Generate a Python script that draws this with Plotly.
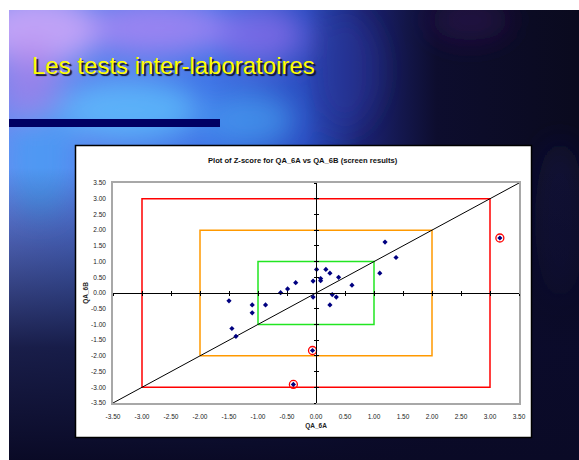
import base64
import plotly.graph_objects as go

# ---------------- data ----------------
x_ticks = [-3.5, -3.0, -2.5, -2.0, -1.5, -1.0, -0.5, 0.0, 0.5, 1.0, 1.5, 2.0, 2.5, 3.0, 3.5]
qa_6a = [-1.50, -1.10, -0.87, -1.10, -1.45, -1.38, -0.61, -0.49, -0.35, -0.05, -0.05, 0.01,
         0.08, 0.08, 0.17, 0.24, 0.39, 0.28, 0.35, 0.24, 0.62, 1.10, 1.19, 1.38]
qa_6b = [-0.25, -0.38, -0.38, -0.63, -1.13, -1.38, 0.01, 0.13, 0.33, 0.38, -0.13, 0.75,
         0.46, 0.39, 0.75, 0.63, 0.50, -0.05, -0.13, -0.38, 0.25, 0.63, 1.62, 1.13]
out_6a = [-0.06, -0.39, 3.17]
out_6b = [-1.83, -2.91, 1.75]
limits = [1.0, 2.0, 3.0]
limit_colors = ["#22e622", "#ff9900", "#ff0000"]
axis_range = [-3.5, 3.5]

# ---------------- geometry ----------------
W, H = 579, 460
L, R, T, B = 113, 60, 183, 57
PW, PH = W - L - R, H - T - B


def px(xp):
    return (xp - L) / PW


def py(yp):
    return (H - B - yp) / PH


# ---------------- background (slide) ----------------
svg = f"""<svg xmlns='http://www.w3.org/2000/svg' width='{W}' height='{H}' viewBox='0 0 {W} {H}'>
<defs>
<linearGradient id='base' x1='0' y1='0' x2='1' y2='0'>
<stop offset='0' stop-color='#6a88f0'/>
<stop offset='0.35' stop-color='#3f74e6'/>
<stop offset='0.52' stop-color='#2a4cc0'/>
<stop offset='0.62' stop-color='#1b2270'/>
<stop offset='0.75' stop-color='#0d0d2e'/>
<stop offset='1' stop-color='#0a0a1e'/>
</linearGradient>
<linearGradient id='dark' x1='0' y1='0' x2='0' y2='1'>
<stop offset='0' stop-color='#0a0a28' stop-opacity='0'/>
<stop offset='0.35' stop-color='#0a0a28' stop-opacity='0'/>
<stop offset='0.75' stop-color='#0b0b2c' stop-opacity='0.85'/>
<stop offset='1' stop-color='#0a0a26' stop-opacity='1'/>
</linearGradient>
<filter id='bl' x='-50%' y='-50%' width='200%' height='200%'><feGaussianBlur stdDeviation='14'/></filter>
<clipPath id='cp'><rect x='9' y='10' width='570' height='450'/></clipPath>
</defs>
<rect x='0' y='0' width='{W}' height='{H}' fill='#ffffff'/>
<g clip-path='url(#cp)'>
<rect x='9' y='10' width='570' height='450' fill='url(#base)'/>
<g filter='url(#bl)'>
<ellipse cx='40' cy='30' rx='60' ry='35' fill='#d0a8f8' opacity='0.85'/>
<ellipse cx='160' cy='28' rx='70' ry='28' fill='#b888f5' opacity='0.7'/>
<ellipse cx='260' cy='35' rx='45' ry='28' fill='#a070f0' opacity='0.6'/>
<ellipse cx='130' cy='110' rx='70' ry='30' fill='#5fc8ff' opacity='0.7'/>
<ellipse cx='250' cy='120' rx='45' ry='25' fill='#4aa8f5' opacity='0.6'/>
<ellipse cx='40' cy='160' rx='35' ry='60' fill='#46a0f5' opacity='0.7'/>
<ellipse cx='30' cy='80' rx='30' ry='40' fill='#b080e8' opacity='0.6'/>
<ellipse cx='345' cy='70' rx='35' ry='60' fill='#2a3aa0' opacity='0.5'/>
<ellipse cx='470' cy='20' rx='40' ry='20' fill='#3a1a5a' opacity='0.5'/>
<ellipse cx='560' cy='220' rx='25' ry='80' fill='#121a50' opacity='0.45'/>
</g>
<rect x='9' y='10' width='570' height='450' fill='url(#dark)'/>
<rect x='9' y='119' width='211' height='8' fill='#000064'/>
<rect x='75.5' y='145.5' width='456' height='292' fill='#ffffff' stroke='#000000' stroke-width='1.5'/>
</g>
</svg>"""
bg_src = "data:image/svg+xml;base64," + base64.b64encode(svg.encode()).decode()

fig = go.Figure()

# limit boxes (|z| = 1, 2, 3)
for lim, col in zip(limits, limit_colors):
    fig.add_trace(go.Scatter(
        x=[-lim, lim, lim, -lim, -lim], y=[-lim, -lim, lim, lim, -lim],
        mode="lines", line=dict(color=col, width=1.5), hoverinfo="skip", showlegend=False))

# diagonal y = x
fig.add_trace(go.Scatter(x=axis_range, y=axis_range, mode="lines",
                         line=dict(color="#000000", width=1), hoverinfo="skip", showlegend=False))

# data points
fig.add_trace(go.Scatter(x=qa_6a + out_6a, y=qa_6b + out_6b, mode="markers",
                         marker=dict(symbol="diamond", size=4, color="#000080"),
                         showlegend=False))
# circled outliers
fig.add_trace(go.Scatter(x=out_6a, y=out_6b, mode="markers",
                         marker=dict(symbol="circle-open", size=8, color="#ff0000",
                                     line=dict(width=1.3, color="#ff0000")),
                         showlegend=False, hoverinfo="skip"))

# dummy traces to realise the crossing zero axes
for xa, ya in [("x2", "y"), ("x3", "y"), ("x", "y2"), ("x", "y3")]:
    fig.add_trace(go.Scatter(x=[None], y=[None], xaxis=xa, yaxis=ya, showlegend=False,
                             hoverinfo="skip"))

tick_font = dict(family="Liberation Sans, Arial, sans-serif", size=6.5, color="#222222")
tick_text = [f"{v:.2f}" for v in x_ticks]
common = dict(range=axis_range, tickmode="array", tickvals=x_ticks, showgrid=False,
              zeroline=False, fixedrange=True)

fig.update_layout(
    width=W, height=H,
    margin=dict(l=L, r=R, t=T, b=B, pad=0),
    paper_bgcolor="#ffffff", plot_bgcolor="#ffffff",
    xaxis=dict(**common, ticktext=tick_text, showline=True, linecolor="#a8a8a8",
               linewidth=1.5, mirror=True, ticks="outside", ticklen=6,
               tickcolor="rgba(0,0,0,0)", tickfont=tick_font,
               title=dict(text="<b>QA_6A</b>", standoff=5,
                          font=dict(family="Liberation Sans, Arial, sans-serif", size=6.5,
                                    color="#222222"))),
    yaxis=dict(**common, ticktext=tick_text, showline=True, linecolor="#a8a8a8",
               linewidth=1.5, mirror=True, ticks="outside", ticklen=4,
               tickcolor="rgba(0,0,0,0)", tickfont=tick_font,
               title=dict(text="<b>QA_6B</b>", standoff=2,
                          font=dict(family="Liberation Sans, Arial, sans-serif", size=6.5,
                                    color="#222222"))),
    xaxis2=dict(**common, overlaying="x", anchor="free", position=0.5, showline=True,
                linecolor="#000000", linewidth=1, ticks="outside", ticklen=2,
                tickcolor="#000000", showticklabels=False),
    xaxis3=dict(**common, overlaying="x", anchor="free", position=0.5, showline=False,
                ticks="inside", ticklen=2, tickcolor="#000000", showticklabels=False),
    yaxis2=dict(**common, overlaying="y", anchor="free", position=0.5, showline=True,
                linecolor="#000000", linewidth=1, ticks="outside", ticklen=2,
                tickcolor="#000000", showticklabels=False),
    yaxis3=dict(**common, overlaying="y", anchor="free", position=0.5, showline=False,
                ticks="inside", ticklen=2, tickcolor="#000000", showticklabels=False),
    images=[dict(source=bg_src, xref="paper", yref="paper", x=px(0), y=py(0),
                 sizex=W / PW, sizey=H / PH, xanchor="left", yanchor="top",
                 sizing="stretch", layer="below")],
    showlegend=False,
)

title_font = "Liberation Sans, Arial, sans-serif"
slide_title = "Les tests inter-laboratoires"
fig.add_annotation(text=slide_title, xref="paper", yref="paper", x=px(30), y=py(65.5),
                   xanchor="left", yanchor="middle", showarrow=False,
                   font=dict(family=title_font, size=24, color="#ffff00",
                             shadow="2px 2px 1px rgba(15,15,35,0.95)"))
fig.add_annotation(text="<b>Plot of Z-score for QA_6A vs QA_6B (screen results)</b>",
                   xref="paper", yref="paper", x=px(303), y=py(160), xanchor="center",
                   yanchor="middle", showarrow=False,
                   font=dict(family=title_font, size=7.6, color="#111111"))

fig.write_html("out.html")
